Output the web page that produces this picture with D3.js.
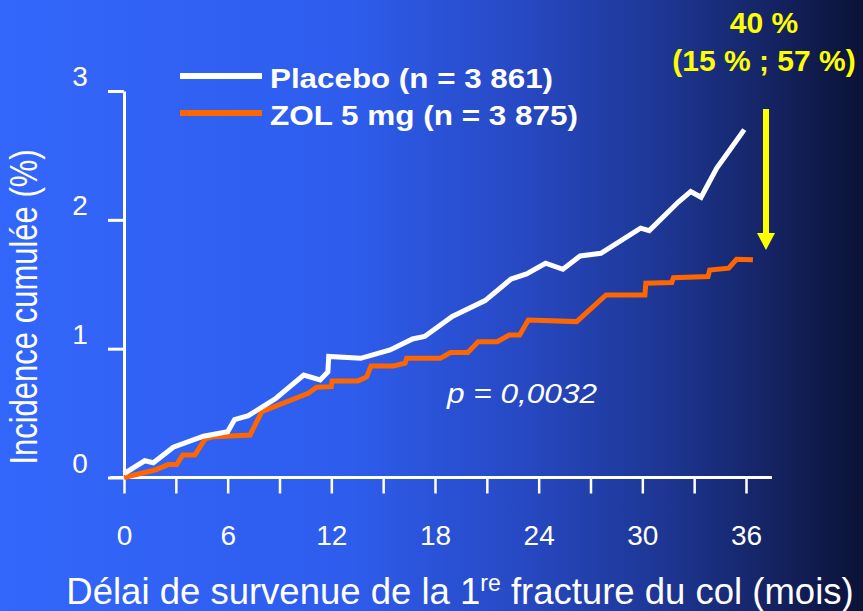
<!DOCTYPE html>
<html>
<head>
<meta charset="utf-8">
<script src="https://cdn.jsdelivr.net/npm/d3@7"></script>
<style>
  html, body { margin: 0; padding: 0; background: #0a1030; }
  svg { display: block; font-family: "Liberation Sans", Arial, sans-serif; }
</style>
</head>
<body>
<div id="chart"></div>
<script>
// months / cumulative incidence (%)
var placeboMonths = [0, 1.2, 1.7, 2.85, 4.6, 6.0, 6.4, 7.2, 8.8, 10.4, 11.35, 11.8, 11.85, 13.7, 15.4, 16.7, 17.4, 19.0, 20.9, 22.4, 23.3, 24.4, 25.4, 26.4, 27.6, 29.9, 30.4, 32.1, 32.8, 33.4, 34.3, 35.05, 35.9];
var placeboValues = [0.03, 0.13, 0.115, 0.235, 0.32, 0.355, 0.45, 0.48, 0.615, 0.795, 0.757, 0.82, 0.94, 0.925, 0.99, 1.075, 1.095, 1.25, 1.373, 1.54, 1.58, 1.663, 1.616, 1.72, 1.74, 1.935, 1.916, 2.14, 2.22, 2.175, 2.40, 2.54, 2.70];

var zolMonths = [0, 1.8, 2.56, 3.05, 3.4, 4.1, 4.7, 5.2, 7.3, 7.97, 10.66, 11.15, 12.0, 12.05, 13.55, 14.04, 14.3, 15.6, 16.27, 16.36, 18.3, 18.9, 19.9, 20.5, 21.6, 22.3, 22.9, 23.4, 26.2, 27.9, 30.15, 30.2, 31.7, 31.8, 33.8, 33.9, 35.0, 35.45, 36.4];
var zolValues = [0, 0.058, 0.10, 0.10, 0.175, 0.175, 0.30, 0.317, 0.33, 0.51, 0.654, 0.70, 0.705, 0.75, 0.75, 0.78, 0.866, 0.866, 0.887, 0.925, 0.925, 0.97, 0.97, 1.054, 1.054, 1.106, 1.106, 1.223, 1.21, 1.417, 1.417, 1.508, 1.513, 1.55, 1.56, 1.61, 1.625, 1.694, 1.69];

var seriesNames = ['Placebo (n = 3 861)', 'ZOL 5 mg (n = 3 875)'];
var seriesColors = ['#ffffff', '#ff6600'];
var xTicks = [0, 3, 6, 9, 12, 15, 18, 21, 24, 27, 30, 33, 36];
var yTicks = [0, 1, 2, 3];

var width = 863;
var height = 611;

var svg = d3.select('#chart')
	.append('svg')
	.attr('width', width)
	.attr('height', height);

var defs = svg.append('defs');
var grad = defs.append('linearGradient')
	.attr('id', 'bg')
	.attr('x1', '0%').attr('x2', '100%')
	.attr('y1', '0%').attr('y2', '0%');
[['0%', '#3366fb'], ['40%', '#2e5ded'], ['60%', '#2749c4'], ['78%', '#1d3590'], ['90%', '#142260'], ['100%', '#0a1236']]
	.forEach(function(s){
		grad.append('stop').attr('offset', s[0]).attr('stop-color', s[1]);
	});

svg.append('rect')
	.attr('width', width)
	.attr('height', height)
	.attr('fill', 'url(#bg)');

var x = d3.scaleLinear().domain([0, 36]).range([124, 746]);
var y = d3.scaleLinear().domain([0, 3]).range([477.5, 91]);

// x axis
var xAxis = svg.append('g')
	.attr('transform', 'translate(0,' + y(0) + ')')
	.call(d3.axisBottom(x)
		.tickValues(xTicks)
		.tickSize(16)
		.tickFormat(function(d){ return d % 6 === 0 ? d : ''; }));
xAxis.select('.domain').remove();
xAxis.selectAll('.tick line')
	.attr('stroke', '#fff')
	.attr('stroke-width', 2.5);
xAxis.selectAll('.tick text')
	.attr('fill', '#fff')
	.attr('y', 67)
	.attr('dy', 0)
	.style('font-size', '28px');
xAxis.append('line')
	.attr('x1', x(-0.8))
	.attr('x2', x(37.5))
	.attr('stroke', '#fff')
	.attr('stroke-width', 3);

// y axis
var yAxis = svg.append('g')
	.attr('transform', 'translate(' + x(0) + ',0)')
	.call(d3.axisLeft(y)
		.tickValues(yTicks)
		.tickSize(16)
		.tickSizeOuter(0)
		.tickFormat(d3.format('d')));
yAxis.select('.domain')
	.attr('stroke', '#fff')
	.attr('stroke-width', 3);
yAxis.selectAll('.tick line')
	.attr('stroke', '#fff')
	.attr('stroke-width', 3);
yAxis.selectAll('.tick text')
	.attr('fill', '#fff')
	.attr('x', -44)
	.attr('y', -15)
	.attr('dy', '0.35em')
	.attr('text-anchor', 'middle')
	.style('font-size', '28px');

// lines
var line = d3.line()
	.x(function(d){ return x(d[0]); })
	.y(function(d){ return y(d[1]); });

var series = [
	d3.zip(placeboMonths, placeboValues),
	d3.zip(zolMonths, zolValues)
];

svg.selectAll('path.series')
	.data(series.slice().reverse())
	.enter()
	.append('path')
	.attr('class', 'series')
	.attr('d', line)
	.attr('fill', 'none')
	.attr('stroke', function(d, i){ return seriesColors[1 - i]; })
	.attr('stroke-width', 5)
	.attr('stroke-linejoin', 'miter');

// legend
var legendTextLen = [283, 308];
var legend = svg.selectAll('.legend')
	.data(seriesNames)
	.enter()
	.append('g')
	.attr('class', 'legend')
	.attr('transform', function(d, i){
		return 'translate(180,' + (76 + i * 37) + ')';
	});

legend.append('line')
	.attr('x1', 0)
	.attr('x2', 82)
	.attr('stroke', function(d, i){ return seriesColors[i]; })
	.attr('stroke-width', 6);

legend.append('text')
	.attr('x', 90)
	.attr('y', 12)
	.attr('fill', '#fff')
	.attr('textLength', function(d, i){ return legendTextLen[i]; })
	.attr('lengthAdjust', 'spacingAndGlyphs')
	.style('font-size', '28px')
	.style('font-weight', 'bold')
	.text(function(d){ return d; });

// axis titles
svg.append('text')
	.attr('x', 460)
	.attr('y', 604)
	.attr('text-anchor', 'middle')
	.attr('fill', '#fff')
	.style('font-size', '36.5px')
	.html('Délai de survenue de la 1<tspan dy="-13" font-size="23">re</tspan><tspan dy="13"> fracture du col (mois)</tspan>');

svg.append('text')
	.attr('transform', 'translate(37,307) scale(1.26,1) rotate(-90)')
	.attr('text-anchor', 'middle')
	.attr('fill', '#fff')
	.style('font-size', '31px')
	.text('Incidence cumulée (%)');

// p value
svg.append('text')
	.attr('x', 447)
	.attr('y', 403)
	.attr('fill', '#fff')
	.attr('textLength', 150)
	.attr('lengthAdjust', 'spacingAndGlyphs')
	.style('font-size', '28px')
	.style('font-style', 'italic')
	.text('p = 0,0032');

// reduction annotation
svg.append('text')
	.attr('x', 764)
	.attr('y', 33)
	.attr('text-anchor', 'middle')
	.attr('fill', '#ffff00')
	.style('font-size', '30px')
	.style('font-weight', 'bold')
	.text('40 %');
svg.append('text')
	.attr('x', 764)
	.attr('y', 71)
	.attr('text-anchor', 'middle')
	.attr('fill', '#ffff00')
	.style('font-size', '30px')
	.style('font-weight', 'bold')
	.text('(15 % ; 57 %)');

svg.append('line')
	.attr('x1', 766).attr('x2', 766)
	.attr('y1', 109).attr('y2', 236)
	.attr('stroke', '#ffff00')
	.attr('stroke-width', 6);
svg.append('path')
	.attr('d', 'M757,233 L775,233 L766,250 Z')
	.attr('fill', '#ffff00');
</script>
</body>
</html>
